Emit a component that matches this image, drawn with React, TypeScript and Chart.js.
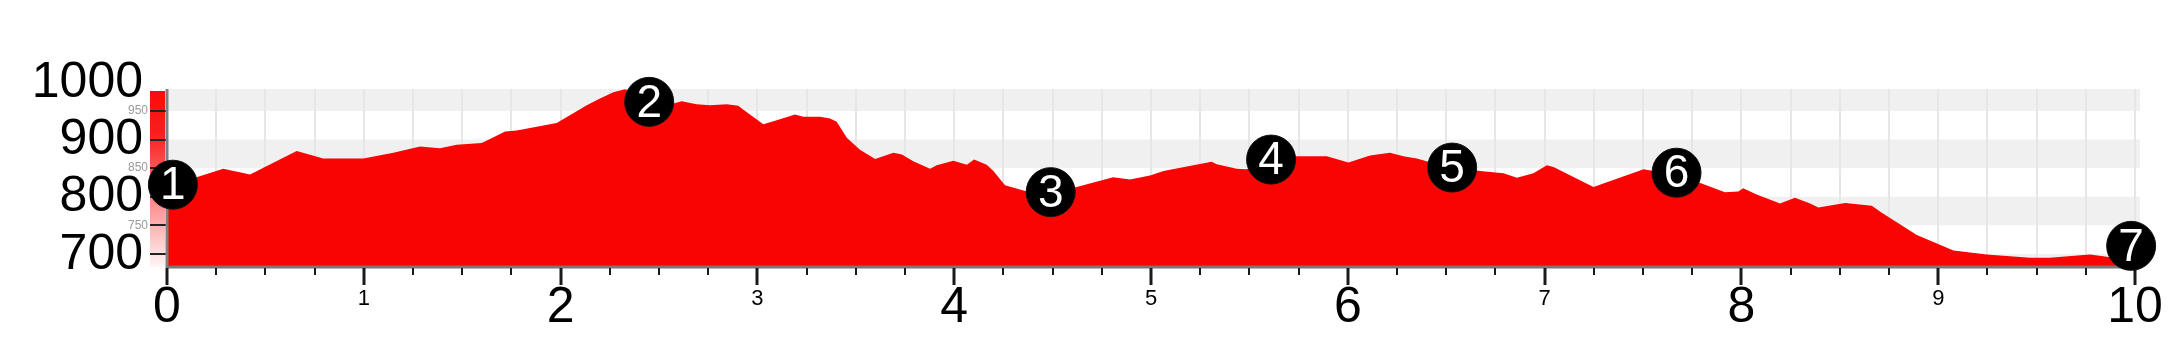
import { useEffect, useRef } from "react";
import { Chart, registerables } from "chart.js";

Chart.register(...registerables);

// Elevation profile: distance along the route (km) and altitude (m)
const distanceKm = [
  0, 0.142, 0.286, 0.422, 0.659, 0.794, 0.998, 1.15, 1.286, 1.387, 1.472, 1.599, 1.641,
  1.718, 1.777, 1.98, 2.133, 2.2, 2.268, 2.327, 2.45, 2.573, 2.615, 2.691, 2.759, 2.844,
  2.903, 2.929, 3.03, 3.098, 3.191, 3.233, 3.318, 3.369, 3.403, 3.454, 3.521, 3.598, 3.691,
  3.734, 3.792, 3.877, 3.911, 3.996, 4.064, 4.101, 4.165, 4.199, 4.258, 4.36, 4.49, 4.622,
  4.808, 4.893, 4.995, 5.063, 5.308, 5.334, 5.435, 5.486, 5.61, 5.74, 5.893, 6.003, 6.113,
  6.214, 6.282, 6.35, 6.4, 6.53, 6.672, 6.791, 6.859, 6.943, 7.011, 7.045, 7.248, 7.503,
  7.67, 7.798, 7.916, 7.984, 8.009, 8.077, 8.196, 8.272, 8.349, 8.391, 8.527, 8.662, 8.713,
  8.891, 9.077, 9.246, 9.466, 9.566, 9.77, 9.838, 9.95, 10.0,
];
const elevationM = [
  781, 833, 849, 839, 880, 867, 867, 877, 888, 885, 891, 894, 901,
  914, 916, 929, 960, 972, 983, 988, 972, 963, 967, 962, 960, 962,
  959, 952, 927, 934, 944, 940, 940, 937, 931, 903, 882, 866, 877,
  874, 862, 849, 855, 863, 856, 865, 856, 845, 820, 810, 806, 817,
  834, 830, 837, 845, 861, 857, 849, 848, 862, 871, 871, 860, 872,
  877, 871, 867, 862, 852, 845, 841, 833, 841, 855, 852, 817, 848,
  838, 823, 808, 809, 815, 804, 788, 798, 788, 781, 789, 784, 772,
  733, 706, 699, 693, 693, 699, 696, 690, 688,
];

// Numbered waypoints along the route
const waypointKm = [0.03, 2.45, 4.49, 5.61, 6.53, 7.67, 9.98];
const waypointElev = [821, 966, 808, 865, 851, 842, 714];
const waypointLabels = ["1", "2", "3", "4", "5", "6", "7"];

// Axis labels
const yLargeLabels = [700, 800, 900, 1000];
const ySmallLabels = [750, 850, 950];
const yTickValues = [700, 750, 800, 850, 900, 950];
const xLabels = [0, 1, 2, 3, 4, 5, 6, 7, 8, 9, 10];

const X_MIN = 0;
const X_MAX = 10.025;
const Y_MIN = 677;
const Y_MAX = 988.5;

const FONT = "'Liberation Sans', Arial, sans-serif";

const profileDecor = {
  id: "profileDecor",
  beforeDatasetsDraw(chart: any) {
    const { ctx, chartArea } = chart;
    const xs = chart.scales.x;
    const ys = chart.scales.y;
    ctx.save();
    // alternating horizontal bands every 50 m
    for (let v = Math.floor(Y_MIN / 50) * 50; v < Y_MAX; v += 50) {
      if ((v / 50) % 2 === 1) {
        const top = ys.getPixelForValue(Math.min(v + 50, Y_MAX));
        const bot = ys.getPixelForValue(Math.max(v, Y_MIN));
        ctx.fillStyle = "#f0f0f0";
        ctx.fillRect(chartArea.left, top, chartArea.right - chartArea.left, bot - top);
      }
    }
    // vertical grid every 250 m of distance
    ctx.strokeStyle = "#e6e6e6";
    ctx.lineWidth = 2;
    for (let k = 0.25; k <= 10.001; k += 0.25) {
      const px = Math.round(xs.getPixelForValue(k));
      ctx.beginPath();
      ctx.moveTo(px, chartArea.top);
      ctx.lineTo(px, chartArea.bottom);
      ctx.stroke();
    }
    ctx.restore();
  },
  beforeDatasetDraw(chart: any, args: any) {
    if (args.index !== 1) return;
    const { ctx, chartArea } = chart;
    const xs = chart.scales.x;
    const ys = chart.scales.y;
    ctx.save();

    // colour bar beside the altitude axis
    const barL = chartArea.left - 17;
    const grad = ctx.createLinearGradient(0, chartArea.top, 0, chartArea.bottom);
    grad.addColorStop(0, "rgb(250,10,10)");
    grad.addColorStop(0.25, "rgb(250,30,30)");
    grad.addColorStop(0.6, "rgb(250,130,130)");
    grad.addColorStop(1, "rgb(255,245,245)");
    ctx.fillStyle = grad;
    ctx.fillRect(barL, chartArea.top + 2, 15, chartArea.bottom - chartArea.top - 2);

    // altitude ticks
    ctx.strokeStyle = "#222";
    ctx.lineWidth = 2;
    for (const v of yTickValues) {
      const py = Math.round(ys.getPixelForValue(v));
      ctx.beginPath();
      ctx.moveTo(barL, py);
      ctx.lineTo(chartArea.left, py);
      ctx.stroke();
    }

    // small grey altitude labels
    ctx.fillStyle = "#9a9a9a";
    ctx.font = `12px ${FONT}`;
    ctx.textAlign = "right";
    ctx.textBaseline = "middle";
    for (const v of ySmallLabels) {
      ctx.fillText(String(v), barL - 2, ys.getPixelForValue(v));
    }

    // large altitude labels
    ctx.fillStyle = "#000";
    ctx.font = `50px ${FONT}`;
    for (const v of yLargeLabels) {
      ctx.fillText(String(v), chartArea.left - 24, ys.getPixelForValue(v) + 1);
    }

    // axis lines
    ctx.strokeStyle = "#808080";
    ctx.lineWidth = 3;
    ctx.beginPath();
    ctx.moveTo(chartArea.left, chartArea.top);
    ctx.lineTo(chartArea.left, chartArea.bottom + 1);
    ctx.stroke();
    ctx.strokeStyle = "#777";
    ctx.beginPath();
    ctx.moveTo(chartArea.left, chartArea.bottom);
    ctx.lineTo(chartArea.right, chartArea.bottom);
    ctx.stroke();

    // distance ticks
    ctx.strokeStyle = "#1a1a1a";
    for (let i = 0; i <= 40; i++) {
      const k = i * 0.25;
      const px = Math.round(xs.getPixelForValue(k));
      const major = i % 4 === 0;
      ctx.lineWidth = major ? 3 : 2;
      ctx.beginPath();
      ctx.moveTo(px, chartArea.bottom + 1);
      ctx.lineTo(px, chartArea.bottom + (major ? 18 : 8));
      ctx.stroke();
    }

    // distance labels: even km large, odd km small
    ctx.fillStyle = "#000";
    ctx.textAlign = "center";
    ctx.textBaseline = "middle";
    for (const k of xLabels) {
      const px = xs.getPixelForValue(k);
      if (k % 2 === 0) {
        ctx.font = `50px ${FONT}`;
        ctx.fillText(String(k), px, chartArea.bottom + 41);
      } else {
        ctx.font = `22px ${FONT}`;
        ctx.fillText(String(k), px, chartArea.bottom + 32);
      }
    }
    ctx.restore();
  },
  afterDatasetsDraw(chart: any) {
    const { ctx } = chart;
    const meta = chart.getDatasetMeta(1);
    ctx.save();
    ctx.fillStyle = "#fff";
    ctx.font = `46px ${FONT}`;
    ctx.textAlign = "center";
    ctx.textBaseline = "middle";
    meta.data.forEach((pt: any, i: number) => {
      ctx.fillText(waypointLabels[i], pt.x, pt.y + 2);
    });
    ctx.restore();
  },
};

export default function App() {
  const canvasRef = useRef<HTMLCanvasElement | null>(null);

  useEffect(() => {
    if (!canvasRef.current) return;
    const chart = new Chart(canvasRef.current, {
      type: "line",
      data: {
        datasets: [
          {
            label: "Altitude",
            data: distanceKm.map((d, i) => ({ x: d, y: elevationM[i] })),
            fill: "start",
            backgroundColor: "#fa0303",
            borderWidth: 0,
            borderColor: "#fa0303",
            pointRadius: 0,
            tension: 0,
            order: 2,
          },
          {
            type: "scatter",
            label: "Waypoints",
            data: waypointKm.map((d, i) => ({ x: d, y: waypointElev[i] })),
            backgroundColor: "#000",
            borderColor: "#111",
            borderWidth: 1,
            pointRadius: 24.5,
            pointHoverRadius: 24.5,
            clip: false,
            order: 1,
          } as any,
        ],
      },
      options: {
        animation: false,
        responsive: false,
        devicePixelRatio: 1,
        events: [],
        layout: { padding: { left: 167, right: 42, top: 89, bottom: 87 } },
        plugins: { legend: { display: false }, tooltip: { enabled: false } },
        scales: {
          x: { type: "linear", min: X_MIN, max: X_MAX, display: false },
          y: { type: "linear", min: Y_MIN, max: Y_MAX, display: false },
        },
      },
      plugins: [profileDecor],
    });
    return () => chart.destroy();
  }, []);

  return (
    <div style={{ position: "fixed", left: 0, top: 0, width: 2182, height: 354, background: "#fff" }}>
      <canvas ref={canvasRef} width={2182} height={354} />
    </div>
  );
}
